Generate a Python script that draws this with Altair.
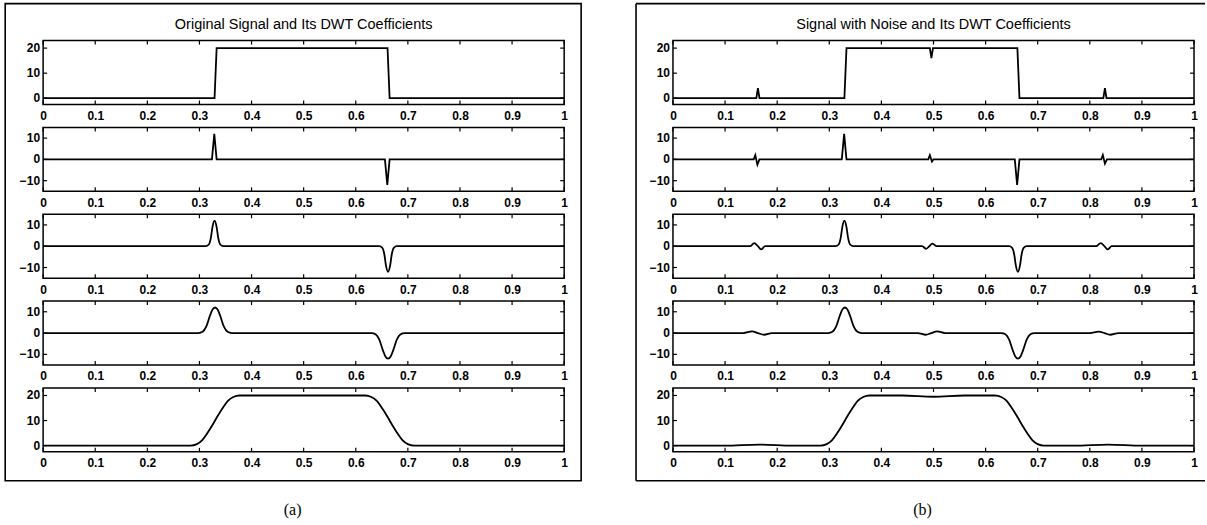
import altair as alt
import pandas as pd

# ---- plot geometry (pixels) ----
W, H = 522, 64
VGAP, HGAP = 23, 109
TICK_LEN = 4

# ---- tick values ----
x_ticks = [0, 0.1, 0.2, 0.3, 0.4, 0.5, 0.6, 0.7, 0.8, 0.9, 1]
sig_ticks = [0, 10, 20]
coef_ticks = [-10, 0, 10]
sig_dom = [-2.5, 23]
coef_dom = [-15, 15]

# ---- (a) original signal and its DWT coefficients ----
a1_x = [0, 0.329, 0.333, 0.661, 0.665, 1]
a1_y = [0, 0, 20, 20, 0, 0]

a2_x = [0, 0.324, 0.3285, 0.333, 0.656, 0.6605, 0.665, 1]
a2_y = [0, 0, 12, 0, 0, -12, 0, 0]

a3_x = [0, 0.312, 0.318, 0.322, 0.325, 0.329, 0.333, 0.336, 0.340, 0.346,
        0.645, 0.651, 0.655, 0.658, 0.662, 0.666, 0.669, 0.673, 0.679, 1]
a3_y = [0, 0, 0.8, 4, 9, 12, 9, 4, 0.8, 0,
        0, -0.8, -4, -9, -12, -9, -4, -0.8, 0, 0]

a4_x = [0, 0.298, 0.306, 0.313, 0.320, 0.325, 0.330, 0.335, 0.340, 0.347, 0.354, 0.362,
        0.630, 0.638, 0.645, 0.652, 0.657, 0.662, 0.667, 0.672, 0.679, 0.686, 0.694, 1]
a4_y = [0, 0, 0.6, 3, 8, 11, 12, 11, 8, 3, 0.6, 0,
        0, -0.6, -3, -8, -11, -12, -11, -8, -3, -0.6, 0, 0]

a5_x = [0, 0.283, 0.295, 0.305, 0.315, 0.325, 0.335, 0.345, 0.355, 0.365, 0.377,
        0.618, 0.630, 0.640, 0.650, 0.660, 0.670, 0.680, 0.690, 0.700, 0.712, 1]
a5_y = [0, 0, 0.6, 2.1, 4.9, 8.2, 11.8, 15.1, 17.9, 19.4, 20,
        20, 19.4, 17.9, 15.1, 11.8, 8.2, 4.9, 2.1, 0.6, 0, 0]

# ---- (b) noisy signal and its DWT coefficients ----
b1_x = [0, 0.160, 0.163, 0.166, 0.329, 0.333, 0.493, 0.496, 0.499, 0.661, 0.665,
        0.826, 0.829, 0.832, 1]
b1_y = [0, 0, 4, 0, 0, 20, 20, 16, 20, 20, 0, 0, 4, 0, 0]

b2_x = [0, 0.155, 0.158, 0.162, 0.166, 0.324, 0.3285, 0.333, 0.490, 0.493, 0.497, 0.500,
        0.656, 0.6605, 0.665, 0.822, 0.825, 0.829, 0.833, 1]
b2_y = [0, 0, 2, -2.5, 0, 0, 12, 0, 0, 2, -1, 0,
        0, -12, 0, 0, 2, -2, 0, 0]

b3_x = [0, 0.148, 0.156, 0.163, 0.169, 0.177,
        0.312, 0.318, 0.322, 0.325, 0.329, 0.333, 0.336, 0.340, 0.346,
        0.478, 0.486, 0.492, 0.498, 0.506,
        0.645, 0.651, 0.655, 0.658, 0.662, 0.666, 0.669, 0.673, 0.679,
        0.812, 0.821, 0.828, 0.834, 0.842, 1]
b3_y = [0, 0, 1.5, 0, -1.5, 0,
        0, 0.8, 4, 9, 12, 9, 4, 0.8, 0,
        0, -1.2, 0, 1.2, 0,
        0, -0.8, -4, -9, -12, -9, -4, -0.8, 0,
        0, 1.5, 0, -1.5, 0, 0]

b4_x = [0, 0.135, 0.152, 0.163, 0.175, 0.190,
        0.298, 0.306, 0.313, 0.320, 0.325, 0.330, 0.335, 0.340, 0.347, 0.354, 0.362,
        0.470, 0.485, 0.496, 0.507, 0.522,
        0.630, 0.638, 0.645, 0.652, 0.657, 0.662, 0.667, 0.672, 0.679, 0.686, 0.694,
        0.800, 0.817, 0.828, 0.839, 0.855, 1]
b4_y = [0, 0, 0.8, 0, -0.8, 0,
        0, 0.6, 3, 8, 11, 12, 11, 8, 3, 0.6, 0,
        0, -0.8, 0, 0.8, 0,
        0, -0.6, -3, -8, -11, -12, -11, -8, -3, -0.6, 0,
        0, 0.7, 0, -0.8, 0, 0]

b5_x = [0, 0.10, 0.165, 0.23, 0.283, 0.295, 0.305, 0.315, 0.325, 0.335, 0.345, 0.355,
        0.365, 0.377, 0.44, 0.50, 0.56, 0.618, 0.630, 0.640, 0.650, 0.660, 0.670,
        0.680, 0.690, 0.700, 0.712, 0.77, 0.835, 0.90, 1]
b5_y = [0, 0, 0.4, 0, 0, 0.6, 2.1, 4.9, 8.2, 11.8, 15.1, 17.9,
        19.4, 20, 20, 19.5, 20, 20, 19.4, 17.9, 15.1, 11.8, 8.2,
        4.9, 2.1, 0.6, 0, 0, 0.4, 0, 0]

LABEL_FONT = "Liberation Sans"
LABEL_STYLE = dict(font=LABEL_FONT, fontSize=12, fontWeight="bold", color="black")


def subplot(xs, ys, ydom, yticks, interp, extras=()):
    xsc = alt.Scale(domain=[0, 1], nice=False, zero=False)
    ysc = alt.Scale(domain=ydom, nice=False, zero=False)
    curve = alt.Chart(pd.DataFrame({"x": xs, "y": ys})).mark_line(
        color="black", strokeWidth=1.8, interpolate=interp, clip=True
    ).encode(
        x=alt.X("x:Q", scale=xsc, title=None,
                axis=alt.Axis(values=x_ticks, format="~g", labelFlush=False,
                              labelPadding=6, labelOverlap=False)),
        y=alt.Y("y:Q", scale=ysc, axis=None),
    )
    xt = pd.DataFrame({"x": x_ticks})
    yt = pd.DataFrame({"y": yticks})
    rule = dict(color="black", strokeWidth=1.2)
    tb = alt.Chart(xt).mark_rule(**rule).encode(
        x=alt.X("x:Q", scale=xsc), y=alt.value(H), y2=alt.value(H - TICK_LEN))
    tt = alt.Chart(xt).mark_rule(**rule).encode(
        x=alt.X("x:Q", scale=xsc), y=alt.value(0), y2=alt.value(TICK_LEN))
    tl = alt.Chart(yt).mark_rule(**rule).encode(
        y=alt.Y("y:Q", scale=ysc, axis=None), x=alt.value(0), x2=alt.value(TICK_LEN))
    tr = alt.Chart(yt).mark_rule(**rule).encode(
        y=alt.Y("y:Q", scale=ysc, axis=None), x=alt.value(W), x2=alt.value(W - TICK_LEN))
    # y tick labels, placed through the y scale
    ylab = alt.Chart(yt).mark_text(align="right", baseline="middle", **LABEL_STYLE).encode(
        y=alt.Y("y:Q", scale=ysc, axis=None), x=alt.value(-3),
        text=alt.Text("y:Q", format="d"))
    return alt.layer(curve, tb, tt, tl, tr, ylab, *extras).properties(width=W, height=H)


def one_row():
    return pd.DataFrame({"k": [0]})


def box_closed(left):
    return [alt.Chart(one_row()).mark_rect(
        filled=False, stroke="black", strokeWidth=1.6, clip=False
    ).encode(x=alt.value(left), x2=alt.value(left + 577),
             y=alt.value(-37), y2=alt.value(441))]


def box_open_right(left, right):
    style = dict(color="black", strokeWidth=1.6, clip=False)
    top = alt.Chart(one_row()).mark_rule(**style).encode(
        x=alt.value(left), x2=alt.value(right), y=alt.value(-37))
    side = alt.Chart(one_row()).mark_rule(**style).encode(
        x=alt.value(left), y=alt.value(-37), y2=alt.value(441))
    bottom = alt.Chart(one_row()).mark_rule(**style).encode(
        x=alt.value(left), x2=alt.value(right), y=alt.value(441))
    return [top, side, bottom]


def panel(curves, title, caption, frame):
    head = alt.Chart(one_row()).mark_text(
        text=title, font=LABEL_FONT, fontSize=14.5, color="black", baseline="middle"
    ).encode(x=alt.value(W / 2), y=alt.value(-16))
    foot = alt.Chart(one_row()).mark_text(
        text=caption, font="Liberation Serif", fontSize=16, color="black", baseline="middle"
    ).encode(x=alt.value(W / 2 - 11), y=alt.value(H + 58))
    doms = [sig_dom, coef_dom, coef_dom, coef_dom, sig_dom]
    tks = [sig_ticks, coef_ticks, coef_ticks, coef_ticks, sig_ticks]
    interps = ["linear", "linear", "monotone", "monotone", "monotone"]
    rows = []
    for i, (xs, ys) in enumerate(curves):
        extras = ()
        if i == 0:
            extras = tuple(frame) + (head,)
        elif i == 4:
            extras = (foot,)
        rows.append(subplot(xs, ys, doms[i], tks[i], interps[i], extras))
    return rows


left = panel([(a1_x, a1_y), (a2_x, a2_y), (a3_x, a3_y), (a4_x, a4_y), (a5_x, a5_y)],
             "Original Signal and Its DWT Coefficients", "(a)", box_closed(-38))
right = panel([(b1_x, b1_y), (b2_x, b2_y), (b3_x, b3_y), (b4_x, b4_y), (b5_x, b5_y)],
              "Signal with Noise and Its DWT Coefficients", "(b)", box_open_right(-37, 533))

# two columns, row-major: left cell then right cell for every level
cells = []
for l_cell, r_cell in zip(left, right):
    cells += [l_cell, r_cell]

chart = alt.concat(
    *cells, columns=2, spacing={"row": VGAP, "column": HGAP}, bounds="flush"
).properties(
    padding={"left": 3.2, "top": 1.2, "right": 0, "bottom": 3},
    background="white",
).configure_view(
    stroke="black", strokeWidth=1.5
).configure_axis(
    labelFont=LABEL_FONT, labelFontSize=12, labelFontWeight="bold", labelColor="black",
    ticks=False, domain=False, grid=False,
)

chart.save("out.html", embed_options={"renderer": "svg", "actions": False})
